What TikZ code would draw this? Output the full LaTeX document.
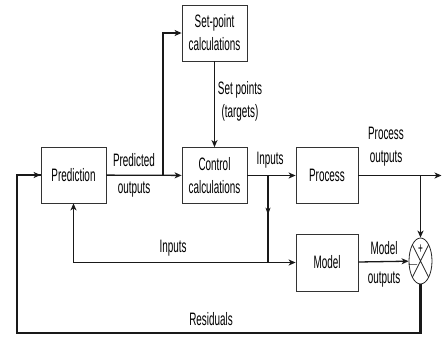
\documentclass[tikz,border=0pt]{standalone}
\usepackage{fontspec}
\setmainfont{Liberation Sans}[FakeStretch=0.55]
\usetikzlibrary{shapes,shapes.geometric,arrows.meta,calc,decorations.markings}
\tikzset{
    box/.style={draw=black!80, line width=0.8pt, minimum width=65pt,
    minimum height=56pt, align=center, inner sep=0pt,
    font=\fontsize{18}{23}\selectfont},
    lbl/.style={align=center, inner sep=0pt, font=\fontsize{18}{23}\selectfont},
    line/.style={line width=1.3pt, black!90},
    sumcross/.style={
        draw=black!85, ellipse, line width=0.8pt, minimum width=23pt,
        minimum height=46pt, inner sep=0pt,
        path picture = {
            \draw[black!85, line width=0.8pt]
            (path picture bounding box.north west) --
            (path picture bounding box.south east)
            (path picture bounding box.south west) --
            (path picture bounding box.north east);
        }
    },
    midarrow/.style={postaction={decorate}, decoration={markings,
        mark=at position 0.45 with {\arrow{Stealth[length=7pt,width=5pt,inset=2pt]}}}}
}

\begin{document}
\begin{tikzpicture}[x=1pt,y=-1pt,>={Stealth[length=7pt,width=6pt,inset=2pt]}]
    \useasboundingbox (0,0) rectangle (442,338);
    % blocks
    \node (pred) [box] at (73.5,175) {Prediction};
    \node (ctrl) [box] at (214.5,175.5) {Control\\calculations};
    \node (setp) [box] at (214.5,33) {Set-point\\calculations};
    \node (proc) [box,minimum width=62pt] at (327,175.5) {Process};
    \node (model) [box,minimum width=62pt,minimum height=57pt] at (327,262.5) {Model};
    \node (sum) [sumcross] at (420.5,261) {};
    \node (plus) [inner sep=0pt,font=\fontsize{15}{15}\selectfont] at (420.5,249) {+};
    \node (minus) [inner sep=0pt,font=\fontsize{15}{15}\selectfont] at (413,265) {$-$};
    % branch points
    \coordinate (up) at (163,175);
    \coordinate (dn) at (268,175.5);
    \coordinate (out) at (441.5,175.5);
    \coordinate (res) at (17,333);
    % connectors
    \draw[line,->] (pred) -- (ctrl);
    \draw[line,->] (up) |- (setp.west);
    \draw[line,->] (setp) -- (ctrl);
    \draw[line,->] (ctrl) -- (proc);
    \draw[line,->] (proc) -- (out);
    \draw[line,->] (sum.north |- proc.east) -- (sum.north);
    \draw[line,midarrow] (dn) -- (dn |- model.west);
    \draw[line,<->] (pred.south) |- (model.west);
    \draw[line,->] (model) -- (sum);
    \draw[line,line width=2.2pt] (sum.south) -- (sum.south |- res) -- (res) |- (pred.west);
    \draw[line,->] (res |- pred.west) -- (pred.west);
    % labels
    \node (l1) [lbl] at (134,160) {Predicted};
    \node (l2) [lbl] at (134,190) {outputs};
    \node (l3) [lbl] at (240,101) {Set points\\(targets)};
    \node (l4) [lbl] at (270,160) {Inputs};
    \node (l5) [lbl] at (386,147) {Process\\outputs};
    \node (l6) [lbl] at (173,248) {Inputs};
    \node (l7) [lbl] at (384,248) {Model};
    \node (l8) [lbl] at (384,280) {outputs};
    \node (l9) [lbl] at (211,319) {Residuals};
\end{tikzpicture}
\end{document}
